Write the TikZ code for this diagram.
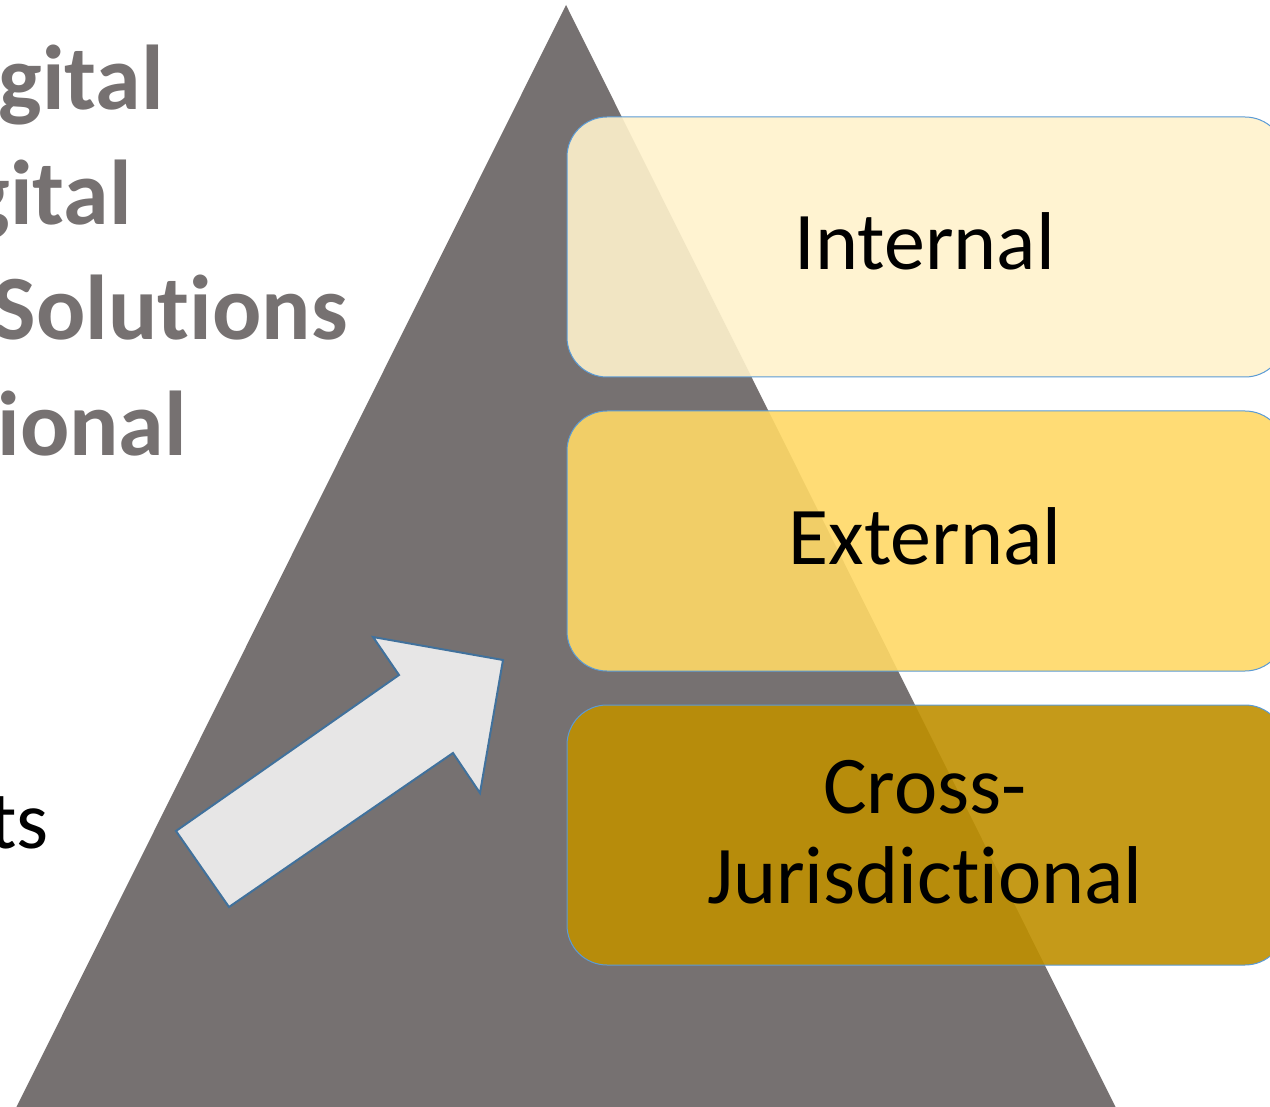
\documentclass[tikz,border=0pt]{standalone}
\usepackage{fontspec}
\setmainfont{Carlito}[Ligatures={NoCommon,NoRequired,NoContextual}]
\definecolor{trigray}{HTML}{767171}
\definecolor{boxA}{HTML}{FFF2CC}
\definecolor{boxB}{HTML}{FFD966}
\definecolor{boxC}{HTML}{BF9000}
\definecolor{edgeblue}{HTML}{5B9BD5}
\definecolor{arrowblue}{HTML}{41719C}
\definecolor{arrowfill}{HTML}{E7E6E6}
\tikzset{
  tierbox/.style={draw=edgeblue, line width=1pt, rounded corners=40pt, fill opacity=0.9,
    minimum width=718pt, minimum height=260pt, inner sep=0pt},
  tiertext/.style={anchor=base, inner sep=0pt, text=black, font=\fontsize{82}{90}\selectfont},
  lefttext/.style={anchor=base east, inner sep=0pt, font=\bfseries\fontsize{92}{115}\selectfont, text=trigray},
  bigarrow/.style={draw=arrowblue, line width=2pt, fill=arrowfill, line join=miter}
}
\begin{document}
\begin{tikzpicture}[x=1pt,y=-1pt]
\useasboundingbox (0,0) rectangle (1270,1107);
\clip (0,0) rectangle (1270,1107);
\fill[white] (0,0) rectangle (1270,1107);
% pyramid
\coordinate (apex) at (566,5);
\coordinate (bl) at (15,1110);
\coordinate (br) at (1117,1110);
\fill[trigray] (apex) -- (br) -- (bl) -- cycle;
% left text (cropped)
\node[lefttext] (l1) at (164,110) {Digital};
\node[lefttext] (l2) at (132,225) {Digital};
\node[lefttext] (l3) at (348,340) {Solutions};
\node[lefttext] (l4) at (187,455) {Jurisdictional};
\node[anchor=base east, inner sep=0pt, font=\fontsize{82}{90}\selectfont, text=black] (l5) at (49,848) {Requirements};
% arrow
\draw[bigarrow] (176,831) -- (229,907) -- (453,753) -- (480,793) -- (503,660) -- (373,637) -- (399,675) -- cycle;
% boxes
\node[tierbox, fill=boxA] (internal) at (926,247) {};
\node[tierbox, fill=boxB] (external) at (926,541) {};
\node[tierbox, fill=boxC] (cross) at (926,835) {};
\node[tiertext] (tInternal) at (925,270) {Internal};
\node[tiertext] (tExternal) at (925,564) {External};
\node[tiertext] (tCross1) at (925,813) {Cross-};
\node[tiertext] (tCross2) at (925,903) {Jurisdictional};
\end{tikzpicture}
\end{document}
